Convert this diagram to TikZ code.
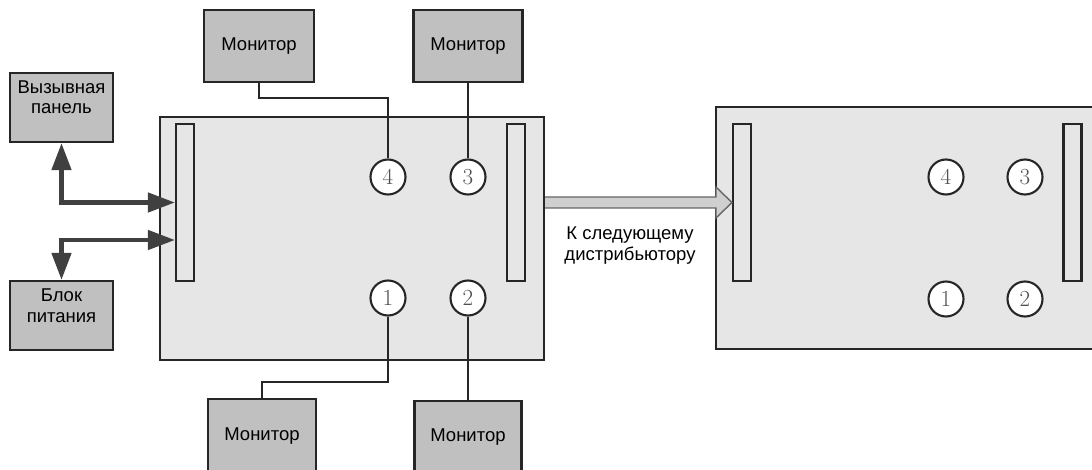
\documentclass[tikz,border=0pt]{standalone}
\usepackage{fontspec}
\newfontfamily\lab{Liberation Sans}
\usetikzlibrary{arrows.meta,calc}
\definecolor{distfill}{HTML}{E6E6E6}
\definecolor{monfill}{HTML}{C0C0C0}
\definecolor{arrdark}{HTML}{404040}
\definecolor{bigfill}{HTML}{CFCFCF}
\definecolor{digit}{HTML}{505050}
\begin{document}
\begin{tikzpicture}[x=1pt,y=-1pt,
  dist/.style={draw=black!85,line width=2.1pt,fill=distfill,rectangle,inner sep=0pt},
  bar/.style={draw=black!85,line width=2.1pt,fill=distfill,rectangle,inner sep=0pt,minimum width=18pt,minimum height=157pt},
  port/.style={draw=black!85,line width=2.1pt,fill=white,circle,inner sep=0pt,minimum size=35pt,
    font=\fontsize{23}{23}\selectfont,text=digit},
  mon/.style={draw=black!85,line width=2.1pt,fill=monfill,rectangle,inner sep=0pt,
    font=\lab\fontsize{18.5}{21}\selectfont,align=center},
  wire/.style={draw=black!85,line width=2.1pt},
  thickarr/.style={draw=arrdark,line width=4.5pt,
    {Triangle[length=27pt,width=19pt]}-{Triangle[length=27pt,width=19pt]}},
  bigarr/.style={draw=black!60,line width=1.4pt,fill=bigfill,line join=miter},
  lbl/.style={font=\lab\fontsize{18.5}{20.5}\selectfont,align=center,inner sep=0pt}]
\useasboundingbox (0,0) rectangle (1092,470);
\clip (0,0) rectangle (1092,470);
% distributors
\node[dist,minimum width=384pt,minimum height=243pt] (dA) at (352,238.5) {};
\node[dist,minimum width=384pt,minimum height=242pt] (dB) at (908,228) {};
\node[bar] (barAL) at (185,202.5) {};
\node[bar] (barAR) at (516,202.5) {};
\node[bar] (barBL) at (742,202.5) {};
\node[bar] (barBR) at (1072.5,202.5) {};
% ports
\node[port] (a4) at (388,177) {4};
\node[port] (a3) at (468,177) {3};
\node[port] (a1) at (388,298) {1};
\node[port] (a2) at (468,298) {2};
\node[port] (b4) at (946,177) {4};
\node[port] (b3) at (1025,177) {3};
\node[port] (b1) at (946,299) {1};
\node[port] (b2) at (1025,299) {2};
% monitors
\node[mon,minimum width=110pt,minimum height=72pt] (mTL) at (259,46) {Монитор};
\node[mon,minimum width=109pt,minimum height=72pt] (mTR) at (468,46) {Монитор};
\node[mon,minimum width=108pt,minimum height=74pt] (mBL) at (262,436) {Монитор};
\node[mon,minimum width=107pt,minimum height=72pt] (mBR) at (468,437) {Монитор};
% left boxes
\node[mon,minimum width=103pt,minimum height=69pt] (pan) at (61.5,107.5) {};
\node[lbl,anchor=north] at ($(pan.north)+(0,8.5)$) {Вызывная\\панель};
\node[mon,minimum width=103pt,minimum height=69pt] (pwr) at (61.5,315.5) {};
\node[lbl,anchor=north] at ($(pwr.north)+(0,9)$) {Блок\\питания};
% wires
\coordinate (k4) at (388,98);
\coordinate (k1) at (388,382);
\draw[wire] (mTL.south) |- (k4) -- (a4.north);
\draw[wire] (mTR.south) -- (a3.north);
\draw[wire] (a1.south) -- (k1) -| (mBL.north);
\draw[wire] (a2.south) -- (mBR.north);
% left thick arrows
\coordinate (lowin) at ($(barAL.west)+(0,37.5)$);
\draw[thickarr] (pan.south) |- (barAL.west);
\draw[thickarr] (lowin) -| (pwr.north);
% big arrow
\coordinate (s) at (dA.east |- barBL.west);
\coordinate (t) at (barBL.west);
\draw[bigarr] ($(s)+(0,-5.5)$) -- ($(t)+(-16,-5.5)$) -- ($(t)+(-16,-15.5)$) -- (t)
  -- ($(t)+(-16,15.5)$) -- ($(t)+(-16,5.5)$) -- ($(s)+(0,5.5)$);
\node[lbl] (next) at (630,245.5) {К следующему\\дистрибьютору};
\end{tikzpicture}
\end{document}
